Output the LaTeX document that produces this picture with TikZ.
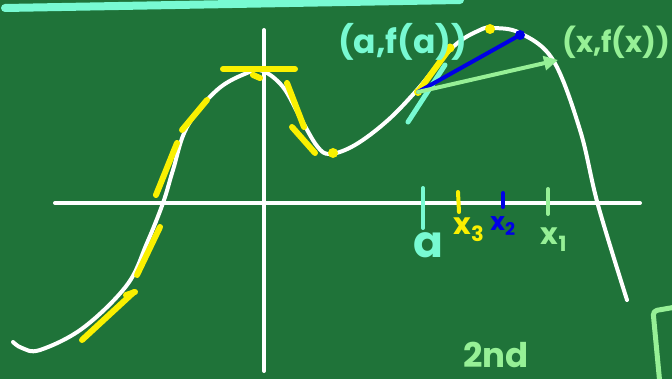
\documentclass[tikz,border=0pt]{standalone}
\usepackage{fontspec}
\setmainfont{Poppins}
\usetikzlibrary{arrows.meta}
\definecolor{board}{RGB}{31,115,57}
\definecolor{mint}{RGB}{120,250,210}
\definecolor{lgreen}{RGB}{150,240,150}
\definecolor{chalkyellow}{RGB}{250,240,0}
\definecolor{chalkblue}{RGB}{0,0,230}

\begin{document}
\begin{tikzpicture}[x=1pt, y=-1pt, line cap=round, line join=round,
  chalk/.style={white, line width=4pt},
  tanseg/.style={chalkyellow, line width=6pt},
  tickmark/.style={line width=4pt},
  lbl/.style={inner sep=0pt, font=\fontsize{33}{38}\selectfont\bfseries},
  sublbl/.style={inner sep=0pt, font=\fontsize{30}{34}\selectfont\bfseries}]

  % ----- board -----
  \fill[board] (0,0) rectangle (672,379);
  \useasboundingbox (0,0) rectangle (672,379);
  \draw[mint, line width=8pt] (5,8) -- (460,0);

  % ----- axes -----
  \draw[chalk] (55,203) -- (640,203);
  \draw[chalk] (264,30) -- (264,371);

  % ----- curve -----
  \draw[chalk] plot[smooth, tension=0.6] coordinates {
    (13,342) (22,348) (40,350) (83,328) (127,285) (147,243) (163,203)
    (173,170) (187,127) (217,90) (247,73) (263,71) (283,87) (300,117)
    (317,146) (330,154) (355,145) (387,121) (417,90) (453,47) (480,30)
    (493,28) (520,33) (553,60) (580,130) (598,205) (627,300)};

  % ----- tangent strokes -----
  \draw[tanseg] (82,340) -- (134,292);
  \draw[tanseg] (126,295) -- (135,292);
  \draw[tanseg] (137,275) -- (160,227);
  \draw[tanseg] (156,195) -- (177,143);
  \draw[tanseg] (182,130) -- (207,100);
  \draw[tanseg] (223,69) -- (295,69);
  \draw[tanseg] (253,75) -- (260,78);
  \draw[tanseg] (287,83) -- (304,127);
  \draw[tanseg] (292,127) -- (315,153);
  \fill[chalkyellow] (333,153) circle (5);

  % ----- points near a -----
  \coordinate (pa) at (418,92);
  \coordinate (px3) at (450,48);
  \coordinate (ptop) at (490,29);
  \coordinate (px2) at (520,35);
  \coordinate (px1) at (558,60);
  \coordinate (ta) at (408,122);
  \coordinate (tb) at (445,65);

  \draw[mint, line width=5pt] (ta) -- (tb);
  \draw[tanseg] (pa) -- (px3);
  \fill[chalkyellow] (px3) circle (4.5);
  \fill[chalkyellow] (pa) circle (4);
  \fill[chalkyellow] (ptop) circle (5);
  \draw[chalkblue, line width=4pt] (pa) -- (px2);
  \fill[chalkblue] (px2) circle (5);
  \draw[lgreen, line width=4pt, -{Triangle[length=14pt, width=14pt]}] (pa) -- (px1);

  % ----- ticks -----
  \draw[tickmark, mint] (423,188) -- (423,228);
  \draw[tickmark, chalkyellow] (458,192) -- (459,212);
  \draw[tickmark, chalkblue] (503,193) -- (503,207);
  \draw[tickmark, lgreen] (548,189) -- (548,214);

  % ----- labels -----
  \node[lbl, mint, anchor=west] (lfa) at (338,42) {(a,f(a))};
  \node[lbl, lgreen, anchor=west, font=\fontsize{29}{34}\selectfont\bfseries] (lfx) at (562,42) {(x,f(x))};
  \node[lbl, mint, font=\fontsize{44}{48}\selectfont\bfseries] (la) at (428,245) {a};
  \node[sublbl, chalkyellow] (lx3) at (469,230) {x\textsubscript{3}};
  \node[sublbl, chalkblue, font=\fontsize{25}{28}\selectfont\bfseries] (lx2) at (503,226) {x\textsubscript{2}};
  \node[sublbl, lgreen] (lx1) at (554,240) {x\textsubscript{1}};
  \node[lbl, lgreen, font=\fontsize{34}{38}\selectfont\bfseries] (lsecond) at (496,355) {2nd};

  % ----- corner mark -----
  \draw[lgreen, line width=5pt, rounded corners=4pt] (676,307) -- (653,311) -- (660,385);

\end{tikzpicture}
\end{document}
